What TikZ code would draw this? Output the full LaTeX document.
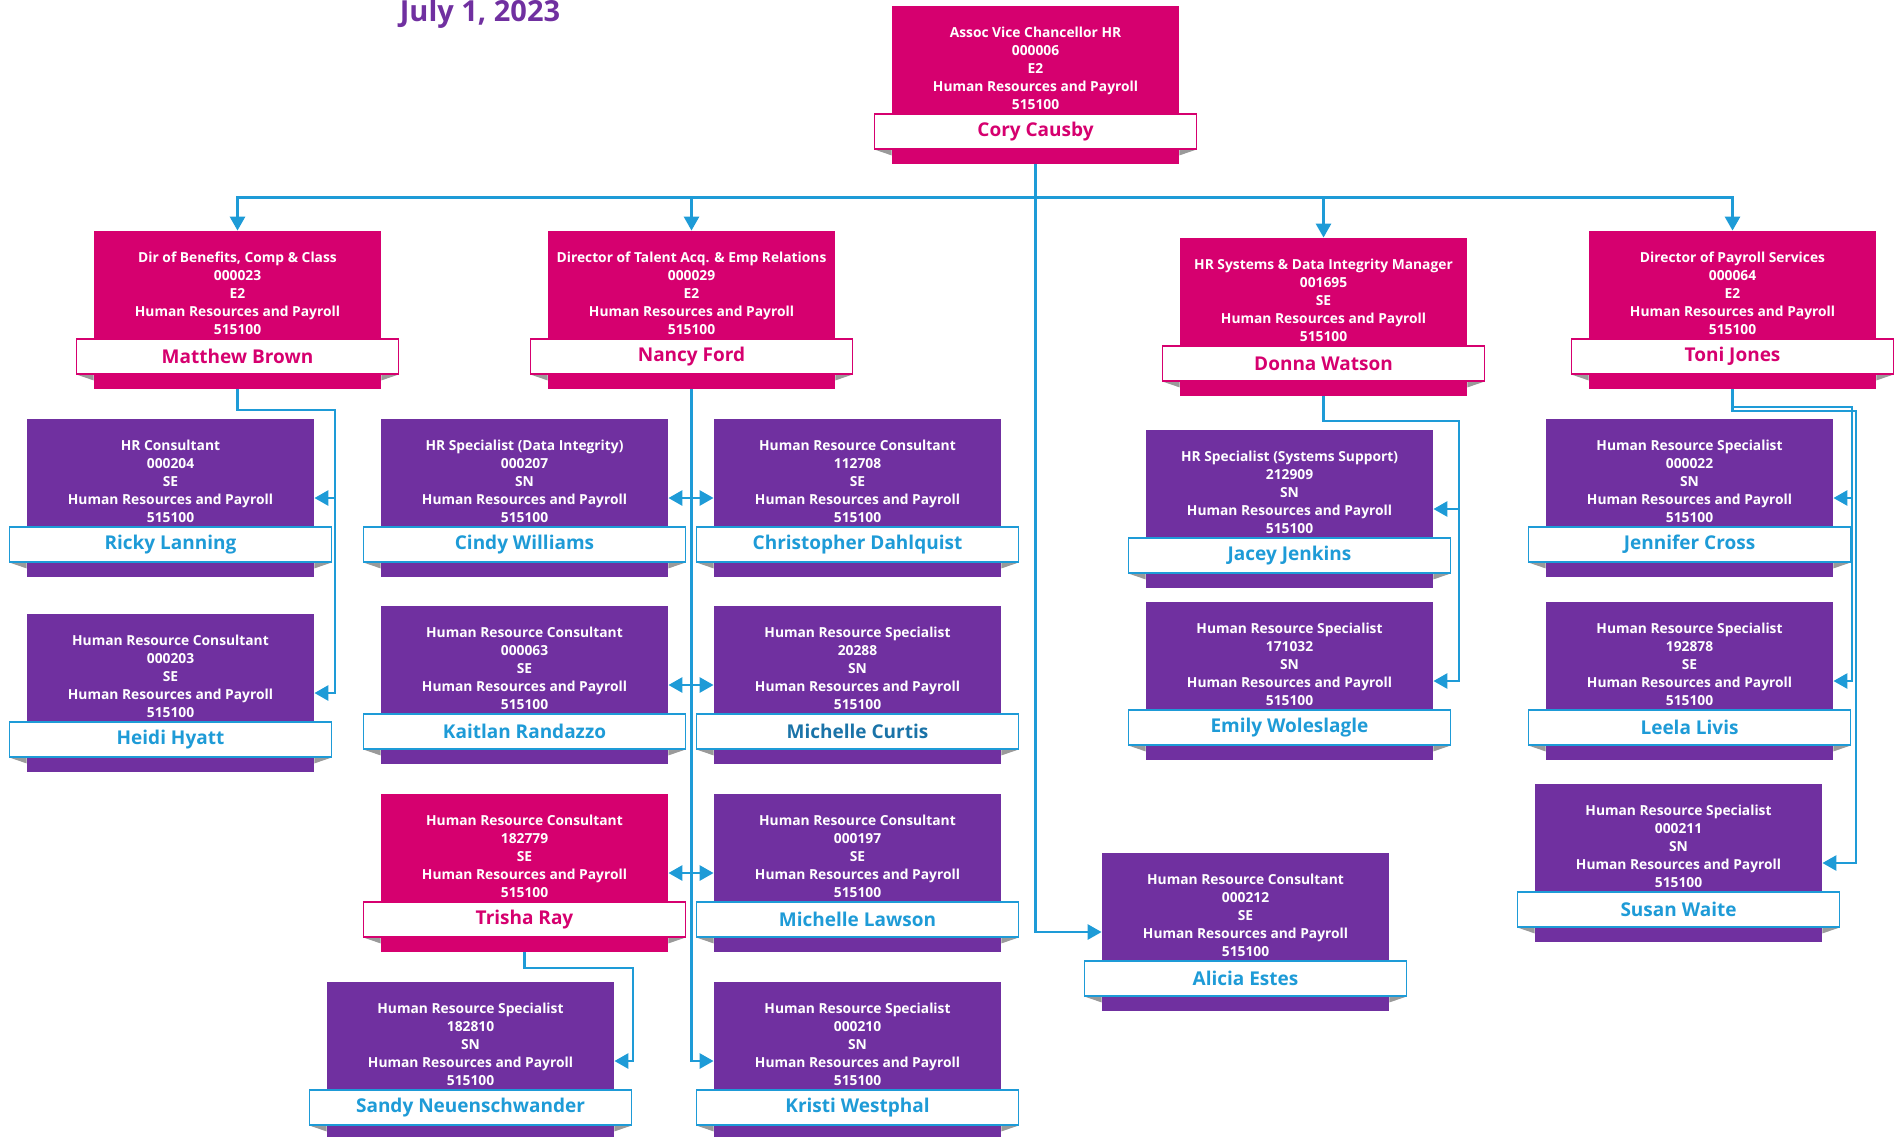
\documentclass[tikz,border=0pt]{standalone}
\usepackage{fontspec}
\setmainfont{Open Sans}
\usepackage{xcolor}
\usepackage{tikz}
\usetikzlibrary{positioning, arrows.meta}
\definecolor{hrpink}{HTML}{D6006F}
\definecolor{hrpurple}{HTML}{7030A0}
\definecolor{hrblue}{HTML}{1E9BD7}
\definecolor{hrteal}{HTML}{1A73A8}
\definecolor{foldgray}{HTML}{9A9A9A}
\newcommand{\orgcard}[9]{%
  \node[cardbody, #4] (#1) at (#2,#3) {};
  \node[cardtext] (#1-t) at ([yshift=8.5pt]#1.center)
    {#5\\#6\\#7\\Human Resources and Payroll\\515100};
  \fill[foldgray] ([shift={(-8.75pt,7.5pt)}]#1.south west) -- ([yshift=7.5pt]#1.south west)
    -- ([yshift=4.5pt]#1.south west) -- cycle;
  \fill[foldgray] ([shift={(8.75pt,7.5pt)}]#1.south east) -- ([yshift=7.5pt]#1.south east)
    -- ([yshift=4.5pt]#1.south east) -- cycle;
  \node[namebar, #8] (#1-n) at ([yshift=-23.25pt]#1.center) {#9};
}

\begin{document}
\begin{tikzpicture}[x=0.5pt, y=-0.5pt,
    cardbody/.style={rectangle, minimum width=143.5pt, minimum height=79pt, inner sep=0pt},
    pinkcard/.style={fill=hrpink},
    purplecard/.style={fill=hrpurple},
    cardtext/.style={text=white, align=center, inner sep=0pt,
      font=\bfseries\fontsize{6.9}{9}\selectfont},
    namebar/.style={rectangle, fill=white, line width=0.8pt, minimum width=161pt,
      minimum height=17.5pt, inner sep=0pt, font=\bfseries\fontsize{9.5}{11}\selectfont},
    pinkbar/.style={draw=hrpink, text=hrpink},
    bluebar/.style={draw=hrblue, text=hrblue},
    tealbar/.style={draw=hrblue, text=hrteal},
    conn/.style={draw=hrblue, line width=1.4pt, -{Triangle[length=7pt, width=7.5pt]}}]
  \useasboundingbox (0,0) rectangle (1898,1136);
  \node[text=hrpurple, font=\bfseries\fontsize{14.5}{16}\selectfont] (date) at (480,14) {July 1, 2023};

  \orgcard{cory}{1035.5}{85}{pinkcard}{Assoc Vice Chancellor HR}{000006}{E2}{pinkbar}{Cory Causby}
  \orgcard{brown}{237.5}{310}{pinkcard}{Dir of Benefits, Comp \& Class}{000023}{E2}{pinkbar}{Matthew Brown}
  \orgcard{ford}{691.5}{310}{pinkcard}{Director of Talent Acq. \& Emp Relations}{000029}{E2}{pinkbar}{Nancy Ford}
  \orgcard{watson}{1323.5}{317}{pinkcard}{HR Systems \& Data Integrity Manager}{001695}{SE}{pinkbar}{Donna Watson}
  \orgcard{jones}{1732.5}{310}{pinkcard}{Director of Payroll Services}{000064}{E2}{pinkbar}{Toni Jones}

  \orgcard{lanning}{170.5}{498}{purplecard}{HR Consultant}{000204}{SE}{bluebar}{Ricky Lanning}
  \orgcard{hyatt}{170.5}{693}{purplecard}{Human Resource Consultant}{000203}{SE}{bluebar}{Heidi Hyatt}
  \orgcard{williams}{524.5}{498}{purplecard}{HR Specialist (Data Integrity)}{000207}{SN}{bluebar}{Cindy Williams}
  \orgcard{dahlquist}{857.5}{498}{purplecard}{Human Resource Consultant}{112708}{SE}{bluebar}{Christopher Dahlquist}
  \orgcard{randazzo}{524.5}{685}{purplecard}{Human Resource Consultant}{000063}{SE}{bluebar}{Kaitlan Randazzo}
  \orgcard{curtis}{857.5}{685}{purplecard}{Human Resource Specialist}{20288}{SN}{tealbar}{Michelle Curtis}
  \orgcard{ray}{524.5}{873}{pinkcard}{Human Resource Consultant}{182779}{SE}{pinkbar}{Trisha Ray}
  \orgcard{lawson}{857.5}{873}{purplecard}{Human Resource Consultant}{000197}{SE}{bluebar}{Michelle Lawson}
  \orgcard{neuen}{470.5}{1061}{purplecard}{Human Resource Specialist}{182810}{SN}{bluebar}{Sandy Neuenschwander}
  \orgcard{westphal}{857.5}{1061}{purplecard}{Human Resource Specialist}{000210}{SN}{bluebar}{Kristi Westphal}
  \orgcard{jenkins}{1289.5}{509}{purplecard}{HR Specialist (Systems Support)}{212909}{SN}{bluebar}{Jacey Jenkins}
  \orgcard{woleslagle}{1289.5}{681}{purplecard}{Human Resource Specialist}{171032}{SN}{bluebar}{Emily Woleslagle}
  \orgcard{estes}{1245.5}{932}{purplecard}{Human Resource Consultant}{000212}{SE}{bluebar}{Alicia Estes}
  \orgcard{cross}{1689.5}{498}{purplecard}{Human Resource Specialist}{000022}{SN}{bluebar}{Jennifer Cross}
  \orgcard{livis}{1689.5}{681}{purplecard}{Human Resource Specialist}{192878}{SE}{bluebar}{Leela Livis}
  \orgcard{waite}{1678.5}{863}{purplecard}{Human Resource Specialist}{000211}{SN}{bluebar}{Susan Waite}

  \coordinate (brownbus) at (335,410);
  \coordinate (raybus) at (633,968);
  \coordinate (watsonbus) at (1459,421);
  \coordinate (jonesbus) at (1852,407);
  \coordinate (jonesbus2) at (1856,411);

  \draw[conn] (cory.south) -- ++(0,33) -| (brown.north);
  \draw[conn] (cory.south) -- ++(0,33) -| (ford.north);
  \draw[conn] (cory.south) -- ++(0,33) -| (watson.north);
  \draw[conn] (cory.south) -- ++(0,33) -| (jones.north);
  \draw[conn] (cory.south) |- (estes.west);

  \draw[conn] (brown.south) |- (brownbus) |- (lanning.east);
  \draw[conn] (brown.south) |- (brownbus) |- (hyatt.east);

  \draw[conn] (ford.south) |- (williams.east);
  \draw[conn] (ford.south) |- (dahlquist.west);
  \draw[conn] (ford.south) |- (randazzo.east);
  \draw[conn] (ford.south) |- (curtis.west);
  \draw[conn] (ford.south) |- (ray.east);
  \draw[conn] (ford.south) |- (lawson.west);
  \draw[conn] (ford.south) |- (westphal.west);
  \draw[conn] (ray.south) |- (raybus) |- (neuen.east);

  \draw[conn] (watson.south) |- (watsonbus) |- (jenkins.east);
  \draw[conn] (watson.south) |- (watsonbus) |- (woleslagle.east);

  \draw[conn] (jones.south) |- (jonesbus) |- (cross.east);
  \draw[conn] (jones.south) |- (jonesbus) |- (livis.east);
  \draw[conn] (jones.south) |- (jonesbus2) |- (waite.east);
\end{tikzpicture}
\end{document}
